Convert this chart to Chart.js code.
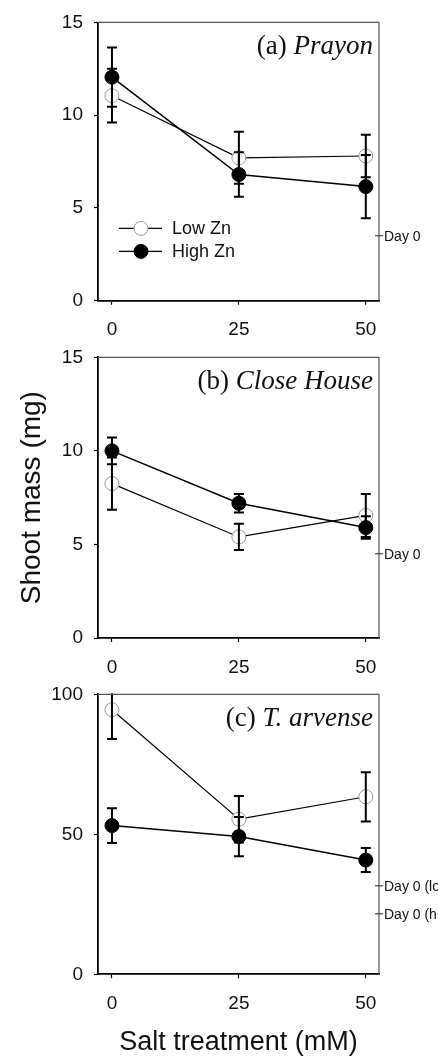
<!DOCTYPE html>
<html>
<head>
<meta charset="utf-8">
<script src="https://cdn.jsdelivr.net/npm/chart.js@4/dist/chart.umd.min.js"></script>
<style>
  html, body { margin: 0; padding: 0; background: #fff; }
  #wrap { position: relative; width: 438px; height: 1056px; }
  #wrap canvas { position: absolute; left: 0; top: 0; }
</style>
</head>
<body>
<div id="wrap">
  <canvas id="panelA" width="438" height="1056"></canvas>
  <canvas id="panelB" width="438" height="1056"></canvas>
  <canvas id="panelC" width="438" height="1056"></canvas>
</div>
<script>
// salt treatment (mM)
const saltLevels = [0, 25, 50];
const xTickVals = [0, 25, 50];
const yTicksSmall = [0, 5, 10, 15];
const yTicksLarge = [0, 50, 100];

// (a) Prayon
const prayonLow = [11.05, 7.7, 7.8];
const prayonLowErr = [1.45, 1.4, 1.15];
const prayonHigh = [12.05, 6.8, 6.15];
const prayonHighErr = [1.6, 1.2, 1.7];
const prayonDay0 = [3.5];

// (b) Close House
const closeLow = [8.25, 5.4, 6.55];
const closeLowErr = [1.4, 0.7, 1.15];
const closeHigh = [10.0, 7.2, 5.9];
const closeHighErr = [0.72, 0.5, 0.6];
const closeDay0 = [4.5];

// (c) T. arvense
const arvLow = [94.5, 55.4, 63.4];
const arvLowErr = [10.5, 8.3, 8.8];
const arvHigh = [53.1, 49.2, 40.8];
const arvHighErr = [6.2, 7.0, 4.3];
const arvDay0 = [31.6, 21.6];
const arvDay0Labels = ["Day 0 (low Zn)", "Day 0 (high Zn)"];

const SANS = "Arial, 'Liberation Sans', Helvetica, sans-serif";
const SERIF = "'Liberation Serif', 'Times New Roman', serif";

// error bars, frame, panel title, day-0 marks, legend
const panelMarks = {
    id: 'panelMarks',
    afterDatasetsDraw(chart) {
        const { ctx, chartArea: a, scales: { x, y } } = chart;
        ctx.save();
        ctx.beginPath();
        ctx.rect(a.left, a.top - 1, a.right - a.left, a.bottom - a.top + 2);
        ctx.clip();
        ctx.strokeStyle = '#000';
        ctx.lineWidth = 2;
        chart.data.datasets.forEach(ds => {
            ds.errs.forEach((e, i) => {
                const pt = ds.data[i];
                const px = x.getPixelForValue(pt.x);
                const y1 = y.getPixelForValue(pt.y + e);
                const y2 = y.getPixelForValue(pt.y - e);
                ctx.beginPath();
                ctx.moveTo(px, y1); ctx.lineTo(px, y2);
                ctx.moveTo(px - 5, y1); ctx.lineTo(px + 5, y1);
                ctx.moveTo(px - 5, y2); ctx.lineTo(px + 5, y2);
                ctx.stroke();
            });
        });
        ctx.restore();
    },
    afterDraw(chart, args, opts) {
        const { ctx, chartArea: a, scales: { y } } = chart;
        ctx.save();
        // top and right frame
        ctx.strokeStyle = '#555';
        ctx.lineWidth = 1.2;
        ctx.beginPath();
        ctx.moveTo(a.left, a.top);
        ctx.lineTo(a.right, a.top);
        ctx.lineTo(a.right, a.bottom);
        ctx.stroke();

        // panel title, right aligned
        ctx.fillStyle = '#111';
        ctx.textBaseline = 'alphabetic';
        ctx.textAlign = 'right';
        ctx.font = 'italic 27px ' + SERIF;
        const tx = a.right - 6, ty = a.top + 32;
        const w = ctx.measureText(opts.name).width;
        ctx.fillText(opts.name, tx, ty);
        ctx.font = '27px ' + SERIF;
        ctx.fillText(opts.tag + ' ', tx - w, ty);

        // day 0 reference marks on right axis
        ctx.strokeStyle = '#222';
        ctx.lineWidth = 1;
        ctx.font = '14px ' + SANS;
        ctx.textAlign = 'left';
        ctx.textBaseline = 'middle';
        opts.day0.forEach((v, i) => {
            const py = y.getPixelForValue(v);
            ctx.beginPath();
            ctx.moveTo(a.right - 4, py); ctx.lineTo(a.right + 4, py);
            ctx.stroke();
            ctx.fillText(opts.day0Labels[i], a.right + 5, py + 1);
        });

        // legend
        if (opts.legend) {
            const rows = [
                { label: 'Low Zn', fill: '#fff', stroke: '#999', dy: 206 },
                { label: 'High Zn', fill: '#000', stroke: '#000', dy: 229 }
            ];
            rows.forEach(r => {
                const ly = a.top + r.dy;
                ctx.strokeStyle = '#000';
                ctx.lineWidth = 1.2;
                ctx.beginPath();
                ctx.moveTo(a.left + 21, ly); ctx.lineTo(a.left + 64, ly);
                ctx.stroke();
                ctx.beginPath();
                ctx.arc(a.left + 43, ly, 7, 0, Math.PI * 2);
                ctx.fillStyle = r.fill;
                ctx.fill();
                ctx.strokeStyle = r.stroke;
                ctx.lineWidth = 1;
                ctx.stroke();
                ctx.fillStyle = '#111';
                ctx.font = '18px ' + SANS;
                ctx.fillText(r.label, a.left + 74, ly + 1);
            });
        }
        ctx.restore();
    }
};

function pts(vals) {
    return vals.map((v, i) => ({ x: saltLevels[i], y: v }));
}

function makePanel(id, cfg) {
    const ctx = document.getElementById(id).getContext('2d');
    return new Chart(ctx, {
        type: 'line',
        data: {
            datasets: [{
                label: 'Low Zn',
                data: pts(cfg.low),
                errs: cfg.lowErr,
                order: 1,
                borderColor: '#000',
                borderWidth: 1.2,
                pointRadius: 7,
                pointBackgroundColor: '#fff',
                pointBorderColor: '#999',
                pointBorderWidth: 1,
                tension: 0
            }, {
                label: 'High Zn',
                data: pts(cfg.high),
                errs: cfg.highErr,
                order: 0,
                borderColor: '#000',
                borderWidth: 1.5,
                pointRadius: 7,
                pointBackgroundColor: '#000',
                pointBorderColor: '#000',
                pointBorderWidth: 1,
                tension: 0
            }]
        },
        options: {
            responsive: false,
            animation: false,
            events: [],
            layout: { padding: { top: cfg.top, left: 0, right: 59, bottom: cfg.padBottom } },
            plugins: {
                legend: { display: false },
                tooltip: { enabled: false },
                panelMarks: {
                    tag: cfg.tag, name: cfg.name,
                    day0: cfg.day0, day0Labels: cfg.day0Labels,
                    legend: cfg.legend
                }
            },
            scales: {
                x: {
                    type: 'linear',
                    min: -2.75,
                    max: 52.6,
                    afterBuildTicks: s => { s.ticks = xTickVals.map(v => ({ value: v })); },
                    afterFit: s => { s.height = cfg.xHeight; },
                    grid: { drawOnChartArea: false, drawTicks: true, tickLength: 4, tickColor: '#000', tickWidth: 1.2 },
                    border: { display: true, color: '#000', width: 1.8 },
                    ticks: { color: '#111', font: { family: SANS, size: 19 }, padding: 14, maxRotation: 0 },
                    title: cfg.xTitle ? {
                        display: true, text: 'Salt treatment (mM)', color: '#111',
                        font: { family: SANS, size: 27, lineHeight: 1 }, padding: { top: 0, bottom: 0 }
                    } : { display: false }
                },
                y: {
                    type: 'linear',
                    min: cfg.yTicks[0],
                    max: cfg.yTicks[cfg.yTicks.length - 1],
                    afterBuildTicks: s => { s.ticks = cfg.yTicks.map(v => ({ value: v })); },
                    afterFit: s => { s.width = 98; },
                    grid: { drawOnChartArea: false, drawTicks: true, tickLength: 4, tickColor: '#000', tickWidth: 1.2 },
                    border: { display: true, color: '#000', width: 1.8 },
                    ticks: { color: '#111', font: { family: SANS, size: 19 }, padding: 11 },
                    title: cfg.yTitle ? {
                        display: true, text: 'Shoot mass (mg)', color: '#111',
                        font: { family: SANS, size: 28, lineHeight: 1.2 }, padding: { top: 15, bottom: 0 }
                    } : { display: false }
                }
            }
        },
        plugins: [panelMarks]
    });
}

makePanel('panelA', {
    low: prayonLow, lowErr: prayonLowErr, high: prayonHigh, highErr: prayonHighErr,
    tag: '(a)', name: 'Prayon', day0: prayonDay0, day0Labels: ['Day 0'],
    yTicks: yTicksSmall, top: 20.7, xHeight: 40, padBottom: 1056 - 300.7 - 40,
    legend: true
});

makePanel('panelB', {
    low: closeLow, lowErr: closeLowErr, high: closeHigh, highErr: closeHighErr,
    tag: '(b)', name: 'Close House', day0: closeDay0, day0Labels: ['Day 0'],
    yTicks: yTicksSmall, top: 357.3, xHeight: 40, padBottom: 1056 - 638 - 40,
    yTitle: true
});

makePanel('panelC', {
    low: arvLow, lowErr: arvLowErr, high: arvHigh, highErr: arvHighErr,
    tag: '(c)', name: 'T. arvense', day0: arvDay0, day0Labels: arvDay0Labels,
    yTicks: yTicksLarge, top: 694.3, xHeight: 1056 - 974.3, padBottom: 0,
    xTitle: true
});
</script>
</body>
</html>
